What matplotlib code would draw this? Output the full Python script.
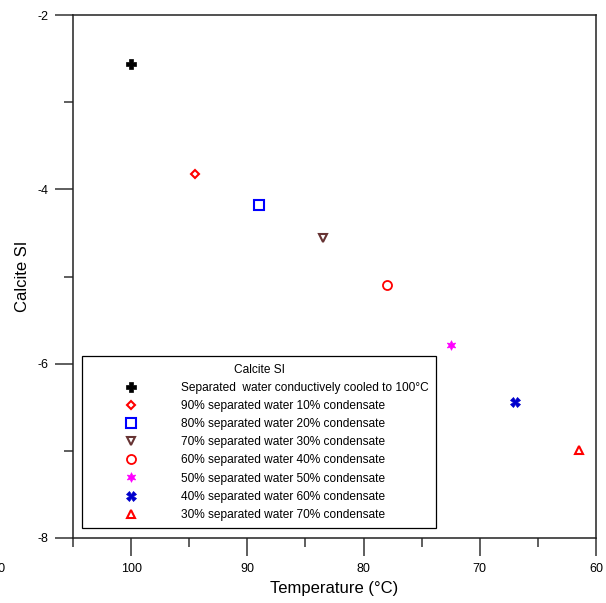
import matplotlib
matplotlib.use("Agg")
import matplotlib.pyplot as plt
from matplotlib.ticker import MultipleLocator

plt.rcParams['font.family'] = ['Liberation Sans', 'DejaVu Sans']
plt.rcParams['axes.unicode_minus'] = False

# data
temps = [100, 94.5, 89.0, 83.5, 78.0, 72.5, 67.0, 61.5]
calcite_si = [-2.56, -3.82, -4.18, -4.56, -5.10, -5.79, -6.44, -6.99]
labels = [
    "Separated  water conductively cooled to 100°C",
    "90% separated water 10% condensate",
    "80% separated water 20% condensate",
    "70% separated water 30% condensate",
    "60% separated water 40% condensate",
    "50% separated water 50% condensate",
    "40% separated water 60% condensate",
    "30% separated water 70% condensate",
]

# marker, colour, size, filled, edge width
styles = [
    ("P", "black", 7, True, 0.5),
    ("D", "red", 4.5, False, 1.5),
    ("s", "#0000ff", 6.5, False, 1.5),
    ("v", "#663333", 6, False, 1.5),
    ("o", "red", 6.5, False, 1.3),
    ((6, 1, 0), "#ff00ff", 7, True, 0.5),
    ("X", "#0000cc", 7, True, 0.5),
    ("^", "red", 6, False, 1.5),
]

fig = plt.figure(figsize=(6.06, 6.03), dpi=100)
ax = fig.add_axes([73 / 606, 1 - 538 / 603, 523 / 606, 523 / 603])

for t, si, lab, (m, c, s, filled, mew) in zip(temps, calcite_si, labels, styles):
    ax.plot([t], [si], linestyle="none", marker=m, markersize=s,
            markeredgecolor=c, markerfacecolor=c if filled else "white",
            markeredgewidth=mew, label=lab)

ax.set_xlim(105, 60)
ax.set_ylim(-8, -2)
ax.xaxis.set_major_locator(MultipleLocator(10))
ax.xaxis.set_minor_locator(MultipleLocator(5))
ax.yaxis.set_major_locator(MultipleLocator(2))
ax.yaxis.set_minor_locator(MultipleLocator(1))

ax.tick_params(which="major", direction="out", length=13, width=1.1,
               color="#333333", labelsize=9, pad=5)
ax.tick_params(which="minor", direction="out", length=6.5, width=1.1,
               color="#333333")
for sp in ax.spines.values():
    sp.set_linewidth(1.1)
    sp.set_color("#222222")

# label of the 110 tick, cut off by the left edge as in the original
ax.annotate("110", xy=(110, 0), xycoords=("data", "axes fraction"),
            xytext=(-7, -18), textcoords="offset points",
            ha="right", va="top", fontsize=9, annotation_clip=False)

ax.set_xlabel("Temperature (°C)", fontsize=12, labelpad=4)
ax.set_ylabel("Calcite SI", fontsize=12, labelpad=5)

leg = ax.legend(loc="lower left", bbox_to_anchor=(82 / 606, 1 - 528 / 603),
                bbox_transform=fig.transFigure, title="Calcite SI",
                fontsize=8.6, title_fontsize=8.6, frameon=True, fancybox=False,
                edgecolor="black", framealpha=1, borderpad=0.6,
                labelspacing=0.515, handlelength=6.95, handletextpad=0.75,
                borderaxespad=0)
leg.get_frame().set_linewidth(0.9)

fig.savefig("out.png", dpi=100)
